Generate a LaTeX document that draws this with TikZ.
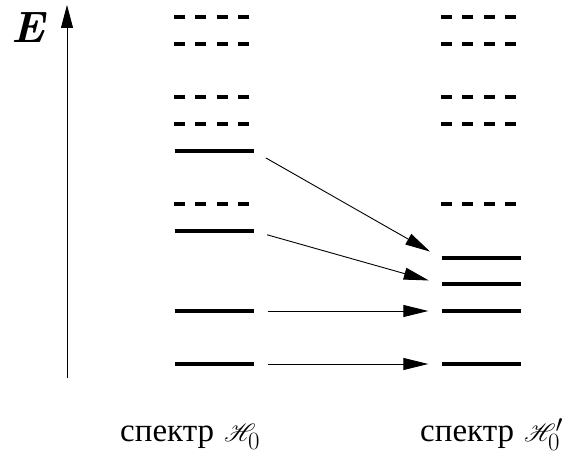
\documentclass[tikz,border=0pt]{standalone}
\usepackage{fontspec}
\usepackage{mathrsfs}
\usetikzlibrary{arrows.meta}
\newfontfamily\cyrfont{Liberation Serif}
\begin{document}
\begin{tikzpicture}[x=1pt,y=-1pt,
  solidlevel/.style={fill=black,inner sep=0pt,minimum width=79pt,minimum height=4.5pt},
  dashlevel/.style={line width=4.5pt,dash pattern=on 10.7pt off 10.7pt},
  trans/.style={line width=0.9pt,-{Triangle[length=25pt,width=12pt]},shorten <=14pt,shorten >=13pt},
  caption/.style={anchor=base west,inner sep=0pt,font=\fontsize{33}{40}\selectfont}]
\useasboundingbox (0,0) rectangle (574,454);

% energy axis
\coordinate (axb) at (67,378);
\coordinate (axt) at (67,5);
\draw[line width=0.8pt,-{Triangle[length=23pt,width=12pt]}] (axb) -- (axt);
\node[anchor=base west,inner sep=0pt,font=\fontsize{44}{52}\selectfont\bfseries\itshape] (elabel) at (11,43) {E};

% left spectrum: dashed levels
\foreach \y in {17,44,97,124,204}
  \draw[dashlevel] (174,\y) -- (254,\y);
% left spectrum: solid levels
\node[solidlevel] (l1) at (214,364) {};
\node[solidlevel] (l2) at (214,311) {};
\node[solidlevel] (l3) at (214,231) {};
\node[solidlevel] (l4) at (214,151) {};

% right spectrum: dashed levels
\foreach \y in {17,44,97,124,204}
  \draw[dashlevel] (441,\y) -- (521,\y);
% right spectrum: solid levels
\node[solidlevel] (r1) at (481,364) {};
\node[solidlevel] (r2) at (481,311) {};
\node[solidlevel] (r3) at (481,284) {};
\node[solidlevel] (r4) at (481,258) {};

% level shifts
\draw[trans] (l1.east) -- (r1.west);
\draw[trans] (l2.east) -- (r2.west);
\draw[trans] (l3.east) -- (r3.west);
\draw[trans] (l4.east) -- (r4.west);

% captions
\node[caption] (capl) at (120,442) {{\cyrfont спектр} $\mathscr{H}_0$};
\node[caption] (capr) at (420,442) {{\cyrfont спектр} $\mathscr{H}_0'$};
\end{tikzpicture}
\end{document}
